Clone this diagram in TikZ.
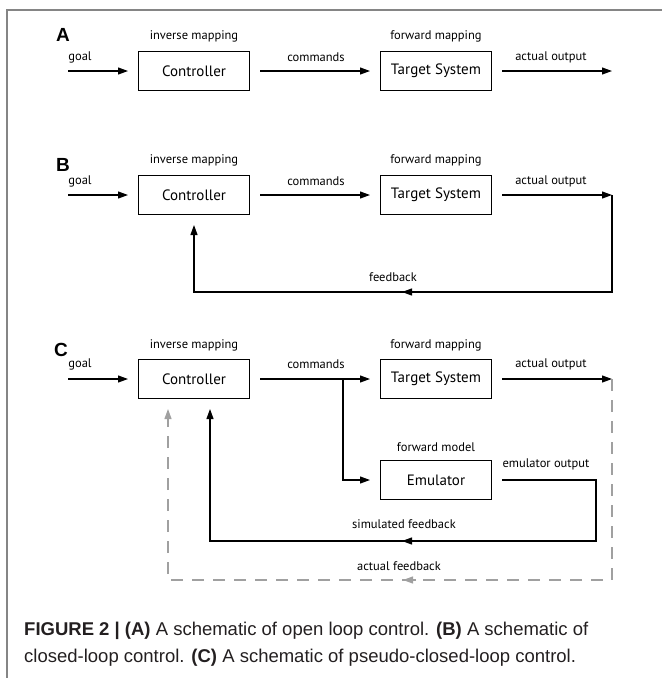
\documentclass[tikz,border=0pt]{standalone}
\usepackage{fontspec}
\setmainfont{PT Sans}
\newfontfamily\capfont{Liberation Sans}
\usetikzlibrary{arrows.meta}
\definecolor{dashgray}{HTML}{A0A0A0}
\definecolor{framegray}{HTML}{858585}
\definecolor{captext}{HTML}{231F20}
\begin{document}
\begin{tikzpicture}[x=1pt,y=-1pt,
  box/.style={draw, line width=1pt, minimum width=111pt, minimum height=39pt, inner sep=0pt, font=\fontsize{15}{17}\selectfont},
  lbl/.style={font=\fontsize{12.5}{14}\selectfont, inner sep=0pt},
  arr/.style={line width=1.1pt, -{Triangle[length=10pt,width=7pt]}},
  grline/.style={line width=1.1pt, color=dashgray, dash pattern=on 12pt off 9pt, -{Triangle[length=10pt,width=7pt]}},
  grtip/.style={line width=1.1pt, color=dashgray, -{Triangle[length=10pt,width=7pt]}},
  panellabel/.style={font=\capfont\fontsize{19}{19}\selectfont\bfseries, inner sep=0pt},
  captxt/.style={anchor=base west, inner sep=0pt, text=captext, font=\capfont\fontsize{18.5}{22}\selectfont}
]
\useasboundingbox (0,0) rectangle (662,678);
% frame
\coordinate (frTL) at (7,10);
\coordinate (frTR) at (662,10);
\coordinate (frBL) at (7,678);
\draw[framegray, line width=1.5pt] (frBL) -- (frTL) -- (frTR);

% ---------- Panel A ----------
\node[panellabel] (lA) at (63,35) {A};
\node[box] (ctrlA) at (194,71) {Controller};
\node[box] (tgtA) at (436,71) {Target System};
\node[lbl] (invA) at (194,36) {inverse mapping};
\node[lbl] (fwdA) at (436,36) {forward mapping};
\node[lbl] (gA) at (80,57) {goal};
\node[lbl] (cA) at (316,57) {commands};
\node[lbl] (oA) at (551,57) {actual output};
\coordinate (goalA) at (68,71);
\coordinate (outA) at (612,71);
\draw[arr, shorten >=10pt] (goalA) -- (ctrlA);
\draw[arr, shorten <=10pt, shorten >=10pt] (ctrlA) -- (tgtA);
\draw[arr, shorten <=10pt] (tgtA) -- (outA);

% ---------- Panel B ----------
\node[panellabel] (lB) at (63,165) {B};
\node[box] (ctrlB) at (194,195) {Controller};
\node[box] (tgtB) at (436,195) {Target System};
\node[lbl] (invB) at (194,160) {inverse mapping};
\node[lbl] (fwdB) at (436,160) {forward mapping};
\node[lbl] (gB) at (80,181) {goal};
\node[lbl] (cB) at (316,181) {commands};
\node[lbl] (oB) at (551,181) {actual output};
\node[lbl] (fbB) at (393,277) {feedback};
\coordinate (goalB) at (68,195);
\coordinate (outB) at (612,195);
\coordinate (fbR) at (612,292);
\coordinate (fbL) at (194,292);
\coordinate (fbMid) at (402,292);
\draw[arr, shorten >=10pt] (goalB) -- (ctrlB);
\draw[arr, shorten <=10pt, shorten >=10pt] (ctrlB) -- (tgtB);
\draw[arr, shorten <=10pt] (tgtB) -- (outB);
\draw[arr, shorten >=10pt] (outB) -- (fbR) -- (fbL) -- (ctrlB.south);
\draw[arr] (fbR) -- (fbMid);

% ---------- Panel C ----------
\node[panellabel] (lC) at (61,350) {C};
\node[box] (ctrlC) at (194,379) {Controller};
\node[box] (tgtC) at (436,379) {Target System};
\node[box] (emu) at (436,480) {Emulator};
\node[lbl] (invC) at (194,345) {inverse mapping};
\node[lbl] (fwdC) at (436,345) {forward mapping};
\node[lbl] (fmC) at (436,447) {forward model};
\node[lbl] (gC) at (80,364) {goal};
\node[lbl] (cC) at (316,364) {commands};
\node[lbl] (oC) at (551,364) {actual output};
\node[lbl] (eoC) at (546,464) {emulator output};
\node[lbl] (sfC) at (404,524) {simulated feedback};
\node[lbl] (afC) at (399,566) {actual feedback};
\coordinate (goalC) at (68,379);
\coordinate (outC) at (612,379);
\coordinate (brC) at (343,379);
\coordinate (eoR) at (596,480);
\coordinate (sfR) at (596,541);
\coordinate (sfL) at (210,541);
\coordinate (sfMid) at (402,541);
\coordinate (afR) at (612,580);
\coordinate (afL) at (168,580);
\coordinate (afTip) at (403,580);
\coordinate (afTail) at (416,580);
\draw[arr, shorten >=10pt] (goalC) -- (ctrlC);
\draw[arr, shorten <=10pt, shorten >=10pt] (ctrlC) -- (tgtC);
\draw[arr, shorten <=10pt] (tgtC) -- (outC);
\draw[arr, shorten >=10pt] (brC) |- (emu);
\draw[arr, shorten <=10pt, shorten >=10pt] (emu) -- (eoR) -- (sfR) -- (sfL) -- (sfL |- ctrlC.south);
\draw[arr] (sfR) -- (sfMid);
\draw[grline, shorten >=10pt] (outC) -- (afR) -- (afL) -- (afL |- ctrlC.south);
\draw[grtip] (afTail) -- (afTip);

% ---------- Caption ----------
\node[captxt] (cap1) at (24,635) {\textbf{FIGURE 2 | (A)} A schematic of open loop control. \textbf{(B)} A schematic of};
\node[captxt] (cap2) at (24,662) {closed-loop control. \textbf{(C)} A schematic of pseudo-closed-loop control.};
\end{tikzpicture}
\end{document}
